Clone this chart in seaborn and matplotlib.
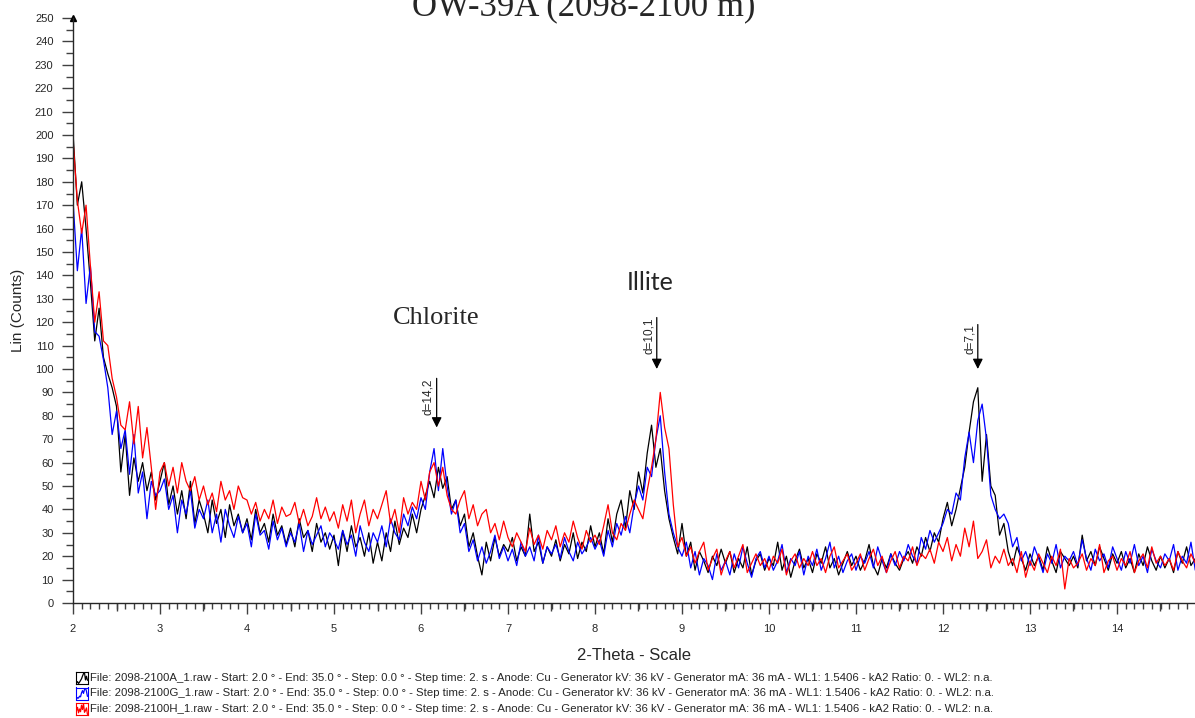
import numpy as np
import pandas as pd
import matplotlib
matplotlib.use('Agg')
import matplotlib.pyplot as plt
import seaborn as sns
from matplotlib.ticker import MultipleLocator

# 2-theta grid: start 2.0, step 0.05 deg
theta_start = 2.0
theta_step = 0.05

# counts, one row = 0.5 deg
counts_a = [
    201, 170, 180, 160, 137, 112, 126, 105, 98, 92,
    84, 56, 72, 46, 62, 52, 60, 48, 56, 44,
    52, 60, 42, 50, 38, 48, 36, 52, 34, 44,
    38, 30, 44, 34, 40, 28, 42, 33, 38, 30,
    36, 27, 40, 30, 34, 26, 38, 29, 33, 25,
    32, 24, 36, 28, 31, 22, 34, 26, 30, 23,
    29, 16, 31, 22, 33, 24, 28, 20, 30, 17,
    26, 18, 30, 22, 35, 25, 32, 28, 38, 30,
    40, 46, 52, 45, 58, 49, 54, 40, 44, 33,
    38, 24, 30, 20, 12, 26, 18, 28, 20, 25,
    22, 28, 18, 24, 20, 38, 22, 26, 17, 24,
    20, 27, 18, 25, 21, 30, 19, 26, 22, 33,
    24, 30, 21, 36, 26, 38, 44, 32, 48, 40,
    56, 47, 64, 76, 58, 66, 48, 36, 28, 21,
    34, 20, 26, 14, 22, 18, 13, 20, 16, 23,
    17, 22, 13, 19, 15, 24, 12, 18, 21, 14,
    19, 16, 26, 14, 20, 11, 18, 23, 15, 19,
    13, 21, 17, 24, 15, 19, 12, 17, 22, 16,
    20, 14, 18, 25, 16, 12, 19, 15, 21, 17,
    14, 19, 22, 17, 24, 20, 28, 22, 30, 26,
    36, 43, 33, 40, 49, 58, 73, 86, 92, 52,
    72, 50, 46, 29, 34, 22, 16, 24, 19, 14,
    21, 16, 20, 14, 24, 18, 13, 22, 19, 16,
    20, 15, 29, 18, 22, 16, 24, 19, 14, 21,
    17, 22, 15, 19, 13, 21, 16, 24, 18, 14,
    20, 15, 19, 13, 22, 17, 24, 16, 19,
]

counts_g = [
    172, 142, 160, 128, 144, 116, 114, 104, 92, 72,
    82, 66, 74, 55, 72, 47, 56, 36, 52, 46,
    48, 53, 40, 46, 30, 44, 38, 48, 32, 40,
    36, 44, 30, 38, 26, 40, 33, 28, 37, 30,
    34, 24, 38, 29, 31, 23, 35, 27, 32, 24,
    30, 26, 34, 22, 31, 25, 29, 33, 24, 30,
    27, 23, 31, 25, 29, 20, 33, 26, 22, 30,
    26, 33, 24, 36, 30, 27, 38, 33, 41, 36,
    45, 40, 56, 66, 48, 66, 50, 38, 44, 30,
    34, 22, 27, 18, 24, 17, 22, 29, 19, 24,
    18, 23, 16, 26, 20, 24, 18, 29, 17, 24,
    21, 25, 19, 28, 22, 18, 26, 21, 24, 28,
    23, 27, 20, 31, 24, 34, 29, 37, 30, 42,
    50, 44, 58, 54, 70, 80, 56, 38, 30, 24,
    20, 26, 15, 22, 12, 19, 16, 10, 21, 14,
    18, 12, 21, 15, 24, 17, 11, 19, 22, 15,
    20, 14, 18, 25, 13, 19, 16, 22, 12, 20,
    16, 23, 14, 19, 26, 15, 20, 13, 18, 21,
    14, 20, 17, 22, 15, 24, 18, 13, 21, 16,
    22, 18, 25, 20, 17, 28, 23, 31, 26, 30,
    34, 40, 38, 47, 44, 62, 73, 60, 78, 85,
    70, 46, 40, 36, 38, 34, 24, 28, 18, 22,
    16, 24, 19, 13, 21, 17, 25, 15, 20, 18,
    22, 16, 27, 19, 14, 23, 18, 21, 15, 24,
    19, 14, 22, 17, 25, 16, 20, 13, 23, 18,
    15, 21, 18, 25, 14, 20, 17, 26, 14,
]

counts_h = [
    198, 172, 158, 170, 144, 120, 133, 112, 110, 96,
    88, 76, 74, 86, 68, 84, 62, 75, 58, 40,
    56, 60, 50, 58, 47, 60, 52, 48, 54, 44,
    50, 42, 47, 39, 52, 44, 48, 40, 50, 45,
    44, 38, 43, 35, 40, 36, 44, 34, 41, 37,
    38, 43, 34, 40, 33, 37, 45, 36, 41, 35,
    39, 32, 42, 35, 44, 30, 38, 44, 33, 40,
    36, 42, 48, 34, 40, 30, 45, 38, 43, 40,
    52, 44, 56, 60, 50, 58, 46, 40, 38, 44,
    48, 36, 42, 33, 38, 40, 30, 34, 27, 35,
    28, 24, 30, 26, 22, 32, 25, 29, 23, 31,
    27, 33, 24, 30, 26, 35, 28, 23, 31, 26,
    29, 25, 33, 42, 30, 27, 34, 31, 38, 44,
    40, 36, 48, 58, 70, 90, 75, 66, 42, 24,
    28, 20, 24, 17, 22, 26, 14, 19, 23, 12,
    18, 22, 15, 20, 25, 13, 17, 21, 16, 19,
    14, 20, 17, 23, 12, 18, 21, 15, 19, 16,
    22, 16, 19, 13, 20, 24, 15, 18, 21, 14,
    17, 21, 14, 19, 23, 16, 20, 13, 18, 22,
    15, 20, 18, 24, 16, 21, 19, 23, 17, 26,
    22, 28, 18, 25, 20, 32, 24, 35, 19, 22,
    27, 15, 20, 17, 23, 16, 19, 13, 22, 11,
    18, 14, 21, 17, 13, 20, 16, 23, 6, 19,
    15, 17, 21, 14, 19, 16, 25, 13, 18, 20,
    14, 19, 16, 22, 13, 18, 21, 15, 24, 17,
    20, 16, 19, 14, 22, 18, 15, 21, 17,
]

file_names = ['2098-2100A_1.raw', '2098-2100G_1.raw', '2098-2100H_1.raw']
line_colors = ['#000000', '#0000ff', '#ff0000']
peak_pos = [6.18, 8.71, 12.40]
peak_labels = ['d=14,2', 'd=10,1', 'd=7,1']
peak_top = [96, 122, 119]
peak_tip = [75, 100, 100]

# build long table for seaborn
series = [counts_a, counts_g, counts_h]
frames = []
for name, vals in zip(file_names, series):
    x = np.round(theta_start + theta_step * np.arange(len(vals)), 2)
    frames.append(pd.DataFrame({'theta': x, 'counts': vals, 'file': name}))
data = pd.concat(frames, ignore_index=True)

sns.set_style('ticks')
plt.rcParams['font.family'] = ['Liberation Sans', 'DejaVu Sans']

fig = plt.figure(figsize=(11.95, 7.18), dpi=100)
ax = fig.add_axes([73 / 1195, 115 / 718, 1122 / 1195, 585 / 718])

sns.lineplot(data=data, x='theta', y='counts', hue='file', palette=line_colors,
             estimator=None, sort=False, linewidth=0.9, legend=False, ax=ax)

ax.set_xlim(2, 2 + 1122 / 87)
ax.set_ylim(0, 250)
sns.despine(ax=ax)
ax.spines['left'].set_linewidth(1.0)
ax.spines['bottom'].set_linewidth(1.0)

ax.xaxis.set_major_locator(MultipleLocator(1))
ax.xaxis.set_minor_locator(MultipleLocator(0.1))
ax.yaxis.set_major_locator(MultipleLocator(10))
ax.yaxis.set_minor_locator(MultipleLocator(5))
ax.tick_params(axis='both', which='major', length=8, width=1.0, color='0.25',
               labelsize=8, direction='out')
ax.tick_params(axis='both', which='minor', length=5, width=1.0, color='0.25',
               direction='out')
ax.tick_params(axis='x', which='minor', length=4)
ax.tick_params(axis='x', which='major', pad=7)
ax.tick_params(axis='y', which='major', pad=6)

# half-degree ticks slightly longer
sec = ax.secondary_xaxis('bottom')
sec.set_xticks(np.arange(2.5, 15, 1.0))
sec.tick_params(length=6, width=1.0, color='0.25', labelbottom=False)
sec.spines['bottom'].set_visible(False)

# arrow head on top of y axis
ax.plot([0], [1], marker='^', color='black', markersize=4,
        transform=ax.transAxes, clip_on=False)

ax.set_xlabel('2-Theta - Scale', fontsize=12)
ax.set_ylabel('Lin (Counts)', fontsize=11)
ax.xaxis.set_label_coords(0.5, -0.089)
ax.xaxis.label.set_va('center')
ax.yaxis.set_label_coords(-0.049, 0.5)
ax.yaxis.label.set_va('center')

# peak markers
for pos, lab, top, tip in zip(peak_pos, peak_labels, peak_top, peak_tip):
    ax.annotate('', xy=(pos, tip), xytext=(pos, top),
                arrowprops=dict(arrowstyle='-|>', color='black', lw=0.9,
                                mutation_scale=15, shrinkA=0, shrinkB=0))
    ax.text(pos - 0.025, top, lab, rotation=90, ha='right', va='top', fontsize=8.5)

ax.text(6.17, 121.8, 'Chlorite', family='Liberation Serif', fontsize=19,
        ha='center', va='center')
ax.text(8.64, 136.8, 'Illite', family=['Lato', 'DejaVu Sans'], fontsize=18,
        ha='center', va='center')

fig.text(583.5 / 1195, 1 - 15 / 718, 'OW-39A (2098-2100 m)',
         family='Liberation Serif', fontsize=25, ha='center', va='baseline')

# legend rows at the bottom
row_y = [678, 693.5, 709]
for name, col, vals, yy in zip(file_names, line_colors, series, row_y):
    ic = fig.add_axes([76 / 1195, 1 - (yy + 6) / 718, 12 / 1195, 12 / 718])
    ic.plot(vals[200:212], color=col, lw=0.9)
    ic.set_xticks([])
    ic.set_yticks([])
    for sp in ic.spines.values():
        sp.set_color(col)
        sp.set_linewidth(0.8)
    fig.text(90 / 1195, 1 - yy / 718,
             'File: ' + name + ' - Start: 2.0 \u00b0 - End: 35.0 \u00b0 - Step: 0.0 \u00b0'
             ' - Step time: 2. s - Anode: Cu - Generator kV: 36 kV - Generator mA: 36 mA'
             ' - WL1: 1.5406 - kA2 Ratio: 0. - WL2: n.a.',
             fontsize=8.2, ha='left', va='center')

fig.savefig('out.png', dpi=100)
